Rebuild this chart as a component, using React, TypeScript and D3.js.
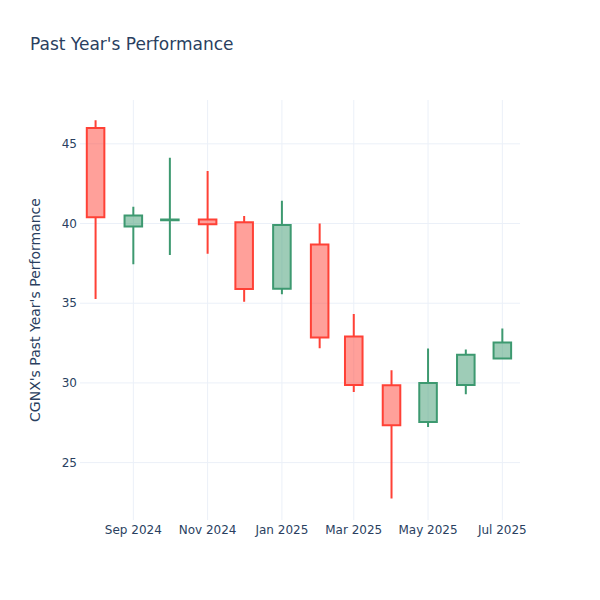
import React, { useEffect, useRef } from "react";
import * as d3 from "d3";

// monthly candles, Aug 2024 .. Jul 2025
const months = [
  "2024-08-01", "2024-09-01", "2024-10-01", "2024-11-01", "2024-12-01", "2025-01-01",
  "2025-02-01", "2025-03-01", "2025-04-01", "2025-05-01", "2025-06-01", "2025-07-01",
];
const opens = [46.0, 39.81, 40.2, 40.25, 40.08, 35.91, 38.68, 32.91, 29.85, 27.55, 29.87, 31.53];
const highs = [46.48, 41.05, 44.13, 43.29, 40.48, 41.43, 40.0, 34.32, 30.8, 32.16, 32.1, 33.42];
const lows = [35.26, 37.44, 38.03, 38.11, 35.09, 35.56, 32.18, 29.43, 22.75, 27.23, 29.29, 31.5];
const closes = [40.4, 40.5, 40.25, 39.96, 35.89, 39.9, 32.85, 29.87, 27.34, 30.0, 31.76, 32.54];

const yTicks = [25, 30, 35, 40, 45];
const xTicks = ["2024-09-01", "2024-11-01", "2025-01-01", "2025-03-01", "2025-05-01", "2025-07-01"];
const xTickLabels = ["Sep 2024", "Nov 2024", "Jan 2025", "Mar 2025", "May 2025", "Jul 2025"];

const FONT = "'DejaVu Sans', Verdana, sans-serif";
const TEXT = "#2a3f5f";

const App: React.FC = () => {
  const ref = useRef<SVGSVGElement>(null);

  useEffect(() => {
    const width = 600;
    const height = 600;
    const m = { l: 80, r: 80, t: 100, b: 80 };
    const parse = d3.utcParse("%Y-%m-%d");

    const svg = d3.select(ref.current);
    svg.selectAll("*").remove();
    svg.attr("width", width).attr("height", height);

    svg.append("rect").attr("width", width).attr("height", height).attr("fill", "#fff");

    const x = d3
      .scaleUtc()
      .domain([new Date(Date.UTC(2024, 6, 19, 5)), new Date(Date.UTC(2025, 6, 15, 12))])
      .range([m.l, width - m.r]);
    const y = d3.scaleLinear().domain([21.4, 47.75]).range([height - m.b, m.t]);

    // grid
    svg
      .append("g")
      .selectAll("line")
      .data(xTicks)
      .enter()
      .append("line")
      .attr("x1", (d) => x(parse(d)!))
      .attr("x2", (d) => x(parse(d)!))
      .attr("y1", m.t)
      .attr("y2", height - m.b)
      .attr("stroke", "#EBF0F8")
      .attr("stroke-width", 1);
    svg
      .append("g")
      .selectAll("line")
      .data(yTicks)
      .enter()
      .append("line")
      .attr("x1", m.l)
      .attr("x2", width - m.r)
      .attr("y1", (d) => y(d))
      .attr("y2", (d) => y(d))
      .attr("stroke", "#EBF0F8")
      .attr("stroke-width", 1);

    // tick labels
    svg
      .append("g")
      .selectAll("text")
      .data(yTicks)
      .enter()
      .append("text")
      .attr("x", m.l - 3)
      .attr("y", (d) => y(d))
      .attr("dy", "0.35em")
      .attr("text-anchor", "end")
      .attr("font-family", FONT)
      .attr("font-size", 12)
      .attr("fill", TEXT)
      .text((d) => d);
    svg
      .append("g")
      .selectAll("text")
      .data(xTicks)
      .enter()
      .append("text")
      .attr("x", (d) => x(parse(d)!))
      .attr("y", height - m.b + 14)
      .attr("text-anchor", "middle")
      .attr("font-family", FONT)
      .attr("font-size", 12)
      .attr("fill", TEXT)
      .text((d, i) => xTickLabels[i]);

    // candles
    const candles = months.map((d, i) => ({
      date: parse(d)!,
      open: opens[i],
      high: highs[i],
      low: lows[i],
      close: closes[i],
    }));
    const halfW = (d: Date) => (x(d3.utcDay.offset(d, 7)) - x(d)) * 1.03;
    const g = svg.append("g");
    candles.forEach((c) => {
      const up = c.close >= c.open;
      const stroke = up ? "#3D9970" : "#FF4136";
      const fill = up ? "rgba(61,153,112,0.5)" : "rgba(255,65,54,0.5)";
      const cx = x(c.date);
      const hw = halfW(c.date);
      const top = y(Math.max(c.open, c.close));
      const bot = y(Math.min(c.open, c.close));
      g.append("path")
        .attr(
          "d",
          `M${cx},${y(c.high)}V${top}M${cx},${bot}V${y(c.low)}M${cx - hw},${top}H${cx + hw}V${bot}H${cx - hw}Z`
        )
        .attr("fill", fill)
        .attr("stroke", stroke)
        .attr("stroke-width", 2);
    });

    // titles
    svg
      .append("text")
      .attr("x", 30)
      .attr("y", 50)
      .attr("font-family", FONT)
      .attr("font-size", 17)
      .attr("fill", TEXT)
      .text("Past Year's Performance");
    svg
      .append("text")
      .attr("transform", `translate(40,${(m.t + height - m.b) / 2}) rotate(-90)`)
      .attr("text-anchor", "middle")
      .attr("font-family", FONT)
      .attr("font-size", 14)
      .attr("fill", TEXT)
      .text("CGNX's Past Year's Performance");
  }, []);

  return <svg ref={ref} style={{ position: "absolute", left: 0, top: 0 }}></svg>;
};

export default App;
